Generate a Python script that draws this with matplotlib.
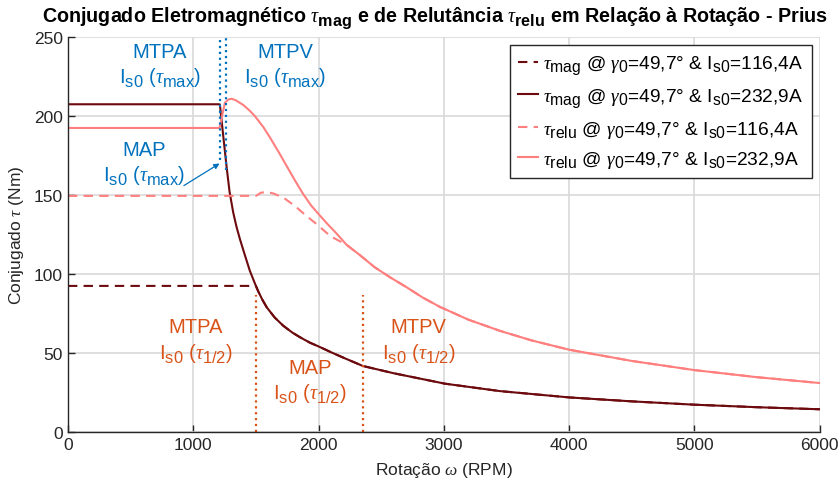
import matplotlib
matplotlib.use("Agg")
import matplotlib.pyplot as plt
import matplotlib._mathtext as mathtext_engine

# MATLAB-like TeX subscripts: larger and set lower than mathtext defaults
mathtext_engine.SHRINK_FACTOR = 0.82
mathtext_engine.FontConstantsBase.sub1 = 0.42
mathtext_engine.FontConstantsBase.sub2 = 0.5

plt.rcParams['font.family'] = ['Liberation Sans', 'DejaVu Sans']
plt.rcParams['mathtext.fontset'] = 'custom'
plt.rcParams['mathtext.rm'] = 'Liberation Sans'
plt.rcParams['mathtext.it'] = 'Liberation Serif:italic'
plt.rcParams['mathtext.bf'] = 'Liberation Sans:bold'

# Magnetic torque, Is0 = 232,9 A
rpm_mag_hi = [0, 1210, 1213, 1240, 1266, 1290, 1319, 1345, 1373, 1410, 1452, 1500,
              1519, 1550, 1586, 1650, 1718, 1790, 1852, 1930, 2011, 2100, 2200,
              2354, 2600, 3009, 3448, 4000, 4500, 5000, 5500, 6000]
tau_mag_hi = [207.5, 207.5, 207, 187, 168, 152, 139, 130, 122, 112.5, 102, 92.5,
              89, 84, 79, 72.5, 67.3, 63, 60, 56.6, 53.8, 50.5, 47,
              41.8, 37.2, 30.6, 25.9, 21.9, 19.4, 17.3, 15.7, 14.4]

# Magnetic torque, Is0 = 116,4 A
rpm_mag_lo = [0, 1500, 1519, 1550, 1586, 1650, 1718, 1790, 1852, 1930, 2011, 2100,
              2200, 2354, 2600, 3009, 3448, 4000, 4500, 5000, 5500, 6000]
tau_mag_lo = [92.5, 92.5, 89, 84, 79, 72.5, 67.3, 63, 60, 56.6, 53.8, 50.5,
              47, 41.8, 37.2, 30.6, 25.9, 21.9, 19.4, 17.3, 15.7, 14.4]

# Reluctance torque, Is0 = 232,9 A
rpm_relu_hi = [0, 1210, 1235, 1253, 1280, 1306, 1340, 1400, 1450, 1492, 1560, 1612,
               1680, 1745, 1810, 1878, 1940, 2011, 2070, 2140, 2224, 2330, 2450,
               2580, 2700, 2830, 2969, 3200, 3450, 3700, 4000, 4500, 5000, 5500, 6000]
tau_relu_hi = [192.5, 192.5, 202, 208.5, 210.5, 211, 210, 207, 203.5, 200, 193, 186.5,
               177.5, 168.5, 159.5, 150.6, 143.5, 137, 131.8, 126, 118.5, 112, 104.2,
               97.5, 91.8, 85.2, 79.2, 71, 64, 58, 52.1, 45, 39.2, 34.7, 31]

# Reluctance torque, Is0 = 116,4 A
rpm_relu_lo = [0, 1500, 1540, 1586, 1640, 1718, 1770, 1825, 1900, 1985, 2091, 2160,
               2224, 2330, 2450, 2580, 2700, 2830, 2969, 3200, 3450, 3700, 4000,
               4500, 5000, 5500, 6000]
tau_relu_lo = [149.5, 149.5, 151.5, 152, 151, 148.5, 145.5, 142.2, 137, 131.6, 124.2, 121.2,
               118.5, 112, 104.2, 97.5, 91.8, 85.2, 79.2, 71, 64, 58, 52.1,
               45, 39.2, 34.7, 31]

# Operating-region boundaries
rpm_tmax = [1210, 1265]
top_tmax = [172, 166]
rpm_thalf = [1500, 2355]
top_thalf = [87, 87]

legend_labels = [
    r'$\tau_{\mathrm{mag}}$ @ $\gamma_0$=49,7° & I$_{\mathrm{s0}}$=116,4A',
    r'$\tau_{\mathrm{mag}}$ @ $\gamma_0$=49,7° & I$_{\mathrm{s0}}$=232,9A',
    r'$\tau_{\mathrm{relu}}$ @ $\gamma_0$=49,7° & I$_{\mathrm{s0}}$=116,4A',
    r'$\tau_{\mathrm{relu}}$ @ $\gamma_0$=49,7° & I$_{\mathrm{s0}}$=232,9A',
]

dark = '#6c0a0e'
pink = '#ff7f7f'
blue = '#0072bd'
orange = '#d95319'
ink = '#262626'

fig = plt.figure(figsize=(8.39, 4.89), dpi=100)
ax = fig.add_axes([0.081, 0.1145, 0.896, 0.8075])

ax.plot(rpm_mag_lo, tau_mag_lo, '--', color=dark, lw=1.5, dashes=(4.5, 3), label=legend_labels[0])
ax.plot(rpm_mag_hi, tau_mag_hi, '-', color=dark, lw=1.5, label=legend_labels[1])
ax.plot(rpm_relu_lo, tau_relu_lo, '--', color=pink, lw=1.5, dashes=(4.5, 3), label=legend_labels[2])
ax.plot(rpm_relu_hi, tau_relu_hi, '-', color=pink, lw=1.5, label=legend_labels[3])

for x, top in zip(rpm_tmax, top_tmax):
    ax.plot([x, x], [top, 250], ':', color=blue, lw=1.6)
for x, top in zip(rpm_thalf, top_thalf):
    ax.plot([x, x], [0, top], ':', color=orange, lw=1.6)

ax.set_xlim(0, 6000)
ax.set_ylim(0, 250)
ax.set_xticks(range(0, 6001, 1000))
ax.set_yticks(range(0, 251, 50))
ax.grid(True, color='#d9d9d9', lw=1.2)
ax.set_axisbelow(True)
for s in ['top', 'right']:
    ax.spines[s].set_visible(False)
for s in ['left', 'bottom']:
    ax.spines[s].set_color(ink)
    ax.spines[s].set_linewidth(1.0)
ax.tick_params(direction='in', length=5, width=1, colors=ink, labelsize=12.5,
               labelcolor=ink)

ax.set_xlabel(r'Rotação $\omega$ (RPM)', fontsize=12.5, color=ink, labelpad=6)
ax.set_ylabel(r'Conjugado $\tau$ (Nm)', fontsize=12.5, color=ink, labelpad=6)
ax.set_title(r'Conjugado Eletromagnético $\tau_{\mathbf{mag}}$ e de Relutância '
             r'$\tau_{\mathbf{relu}}$ em Relação à Rotação - Prius',
             fontsize=14.2, fontweight='bold', pad=12, x=0.488)

fs = 14.5
def label(x, y, line1, line2, color):
    ax.text(x, y, line1, color=color, fontsize=fs, ha='center', va='center')
    ax.text(x, y - 16.5, line2, color=color, fontsize=fs, ha='center', va='center')

tmax = r'I$_{\mathrm{s0}}$ ($\tau_{\mathrm{max}}$)'
thalf = r'I$_{\mathrm{s0}}$ ($\tau_{\mathrm{1/2}}$)'
label(735, 241, 'MTPA', tmax, blue)
label(1735, 241, 'MTPV', tmax, blue)
label(610, 179, 'MAP', tmax, blue)
label(1020, 66.5, 'MTPA', thalf, orange)
label(1930, 41, 'MAP', thalf, orange)
label(2800, 66.5, 'MTPV', thalf, orange)

ax.annotate('', xy=(1210, 170), xytext=(925, 156),
            arrowprops=dict(arrowstyle='-|>', color=blue, lw=0.9,
                            mutation_scale=8, shrinkA=0, shrinkB=0))

leg = ax.legend(loc='upper right', bbox_to_anchor=(0.995, 0.99), fontsize=13.8,
                frameon=True, fancybox=False, edgecolor=ink, framealpha=1,
                handlelength=1.0, handletextpad=0.3, borderpad=0.45, labelspacing=0.47,
                borderaxespad=0.2)
leg.get_frame().set_linewidth(1.0)

fig.savefig('out.png', dpi=100)
